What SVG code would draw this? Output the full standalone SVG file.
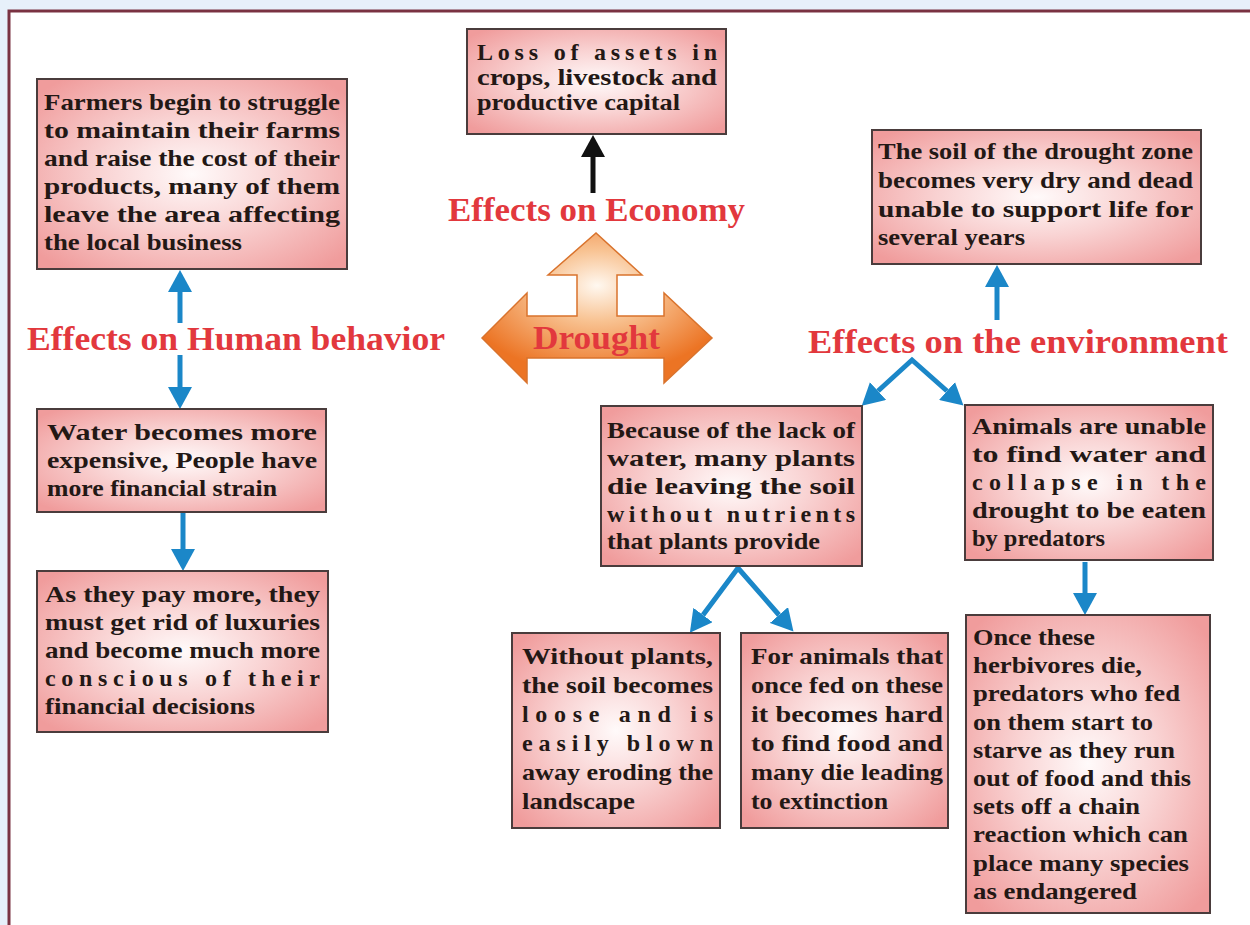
<svg xmlns="http://www.w3.org/2000/svg" width="1250" height="925" viewBox="0 0 1250 925">
  <defs>
    <radialGradient id="boxFill" cx="50%" cy="50%" r="65%">
      <stop offset="0" stop-color="#fffafa"/>
      <stop offset="0.45" stop-color="#f9d3d3"/>
      <stop offset="1" stop-color="#f09c9c"/>
    </radialGradient>
    <radialGradient id="droughtFill" cx="50%" cy="35%" r="60%">
      <stop offset="0" stop-color="#fff8f0"/>
      <stop offset="0.4" stop-color="#f8c291"/>
      <stop offset="1" stop-color="#ec7424"/>
    </radialGradient>
    <marker id="blueHead" viewBox="0 0 22 24" markerWidth="22" markerHeight="24" refX="0" refY="12" orient="auto-start-reverse" markerUnits="userSpaceOnUse">
      <path d="M0,0 L22,12 L0,24 Z" fill="#1b87c8"/>
    </marker>
    <marker id="blackHead" viewBox="0 0 22 24" markerWidth="22" markerHeight="24" refX="0" refY="12" orient="auto" markerUnits="userSpaceOnUse">
      <path d="M0,0 L22,12 L0,24 Z" fill="#111111"/>
    </marker>
  </defs>
  <style>
    .box { fill: url(#boxFill); stroke: #4a3c3c; stroke-width: 2; }
    .t { font-family: "Liberation Serif", "Times New Roman", serif; font-weight: bold; font-size: 24px; fill: #231815; }
    .lbl { font-family: "Liberation Serif", "Times New Roman", serif; font-weight: bold; font-size: 33px; fill: #e2383d; }
    .blue { stroke: #1b87c8; stroke-width: 5; fill: none; stroke-linejoin: miter; }
    .black { stroke: #111111; stroke-width: 5; fill: none; }
  </style>

  <!-- page background and frame -->
  <rect x="0" y="0" width="1250" height="925" fill="#e7f0fa"/>
  <rect x="9" y="11" width="1260" height="930" fill="#ffffff" stroke="#7a3242" stroke-width="3"/>

  <!-- connectors -->
  <g id="connectors">
    <line class="blue" x1="180" y1="323" x2="180" y2="292" marker-end="url(#blueHead)"/>
    <line class="blue" x1="180" y1="355" x2="180" y2="387" marker-end="url(#blueHead)"/>
    <line class="blue" x1="183" y1="513" x2="183" y2="549" marker-end="url(#blueHead)"/>
    <line class="black" x1="593" y1="193" x2="593" y2="157" marker-end="url(#blackHead)"/>
    <line class="blue" x1="997" y1="320" x2="997" y2="287" marker-end="url(#blueHead)"/>
    <path class="blue" d="M878,391 L912,360 L947,391" marker-start="url(#blueHead)" marker-end="url(#blueHead)"/>
    <path class="blue" d="M703,615 L738,568 L779,615" marker-start="url(#blueHead)" marker-end="url(#blueHead)"/>
    <line class="blue" x1="1085" y1="562" x2="1085" y2="593" marker-end="url(#blueHead)"/>
  </g>

  <!-- central drought arrow -->
  <g id="drought">
    <path d="M482,338 L527,293 L527,316 L577,316 L577,275 L548,275 L596,233 L642,275 L617,275 L617,316 L664,316 L664,293 L712,338 L664,383 L664,358 L527,358 L527,383 Z" fill="url(#droughtFill)" stroke="#d9732d" stroke-width="1.5"/>
    <text class="lbl" x="533" y="349" textLength="127" lengthAdjust="spacingAndGlyphs">Drought</text>
  </g>

  <!-- category labels -->
  <g id="label-human"><text class="lbl" x="27" y="350" textLength="418" lengthAdjust="spacingAndGlyphs">Effects on Human behavior</text></g>
  <g id="label-economy"><text class="lbl" x="448" y="221" textLength="297" lengthAdjust="spacingAndGlyphs">Effects on Economy</text></g>
  <g id="label-environment"><text class="lbl" x="808" y="353" textLength="420" lengthAdjust="spacingAndGlyphs">Effects on the environment</text></g>

  <!-- boxes -->
  <g id="farmers">
    <rect class="box" x="37" y="79" width="310" height="190"/>
    <text class="t" x="44" y="110" textLength="296" lengthAdjust="spacingAndGlyphs">Farmers begin to struggle</text>
    <text class="t" x="44" y="138" textLength="296" lengthAdjust="spacingAndGlyphs">to maintain their farms</text>
    <text class="t" x="44" y="166" textLength="296" lengthAdjust="spacingAndGlyphs">and raise the cost of their</text>
    <text class="t" x="44" y="194" textLength="296" lengthAdjust="spacingAndGlyphs">products, many of them</text>
    <text class="t" x="44" y="222" textLength="296" lengthAdjust="spacingAndGlyphs">leave the area affecting</text>
    <text class="t" x="44" y="250" textLength="198" lengthAdjust="spacingAndGlyphs">the local business</text>
  </g>

  <g id="loss">
    <rect class="box" x="467" y="29" width="259" height="105"/>
    <text class="t" x="477" y="60" textLength="240">Loss of assets in</text>
    <text class="t" x="477" y="85" textLength="240" lengthAdjust="spacingAndGlyphs">crops, livestock and</text>
    <text class="t" x="477" y="110" textLength="203" lengthAdjust="spacingAndGlyphs">productive capital</text>
  </g>

  <g id="soil">
    <rect class="box" x="872" y="130" width="329" height="134"/>
    <text class="t" x="878" y="159" textLength="315" lengthAdjust="spacingAndGlyphs">The soil of the drought zone</text>
    <text class="t" x="878" y="188" textLength="315" lengthAdjust="spacingAndGlyphs">becomes very dry and dead</text>
    <text class="t" x="878" y="217" textLength="315" lengthAdjust="spacingAndGlyphs">unable to support life for</text>
    <text class="t" x="878" y="245" textLength="147" lengthAdjust="spacingAndGlyphs">several years</text>
  </g>

  <g id="water">
    <rect class="box" x="37" y="409" width="289" height="103"/>
    <text class="t" x="47" y="440" textLength="270" lengthAdjust="spacingAndGlyphs">Water becomes more</text>
    <text class="t" x="47" y="468" textLength="270" lengthAdjust="spacingAndGlyphs">expensive, People have</text>
    <text class="t" x="47" y="496" textLength="230" lengthAdjust="spacingAndGlyphs">more financial strain</text>
  </g>

  <g id="pay">
    <rect class="box" x="37" y="571" width="291" height="161"/>
    <text class="t" x="45" y="602" textLength="275" lengthAdjust="spacingAndGlyphs">As they pay more, they</text>
    <text class="t" x="45" y="630" textLength="275" lengthAdjust="spacingAndGlyphs">must get rid of luxuries</text>
    <text class="t" x="45" y="658" textLength="275" lengthAdjust="spacingAndGlyphs">and become much more</text>
    <text class="t" x="45" y="686" textLength="275">conscious of their</text>
    <text class="t" x="45" y="714" textLength="210" lengthAdjust="spacingAndGlyphs">financial decisions</text>
  </g>

  <g id="plants">
    <rect class="box" x="601" y="406" width="261" height="160"/>
    <text class="t" x="607" y="438" textLength="248" lengthAdjust="spacingAndGlyphs">Because of the lack of</text>
    <text class="t" x="607" y="466" textLength="248" lengthAdjust="spacingAndGlyphs">water, many plants</text>
    <text class="t" x="607" y="494" textLength="248" lengthAdjust="spacingAndGlyphs">die leaving the soil</text>
    <text class="t" x="607" y="522" textLength="248">without nutrients</text>
    <text class="t" x="607" y="549" textLength="213" lengthAdjust="spacingAndGlyphs">that plants provide</text>
  </g>

  <g id="animals">
    <rect class="box" x="965" y="405" width="248" height="155"/>
    <text class="t" x="972" y="434" textLength="234" lengthAdjust="spacingAndGlyphs">Animals are unable</text>
    <text class="t" x="972" y="462" textLength="234" lengthAdjust="spacingAndGlyphs">to find water and</text>
    <text class="t" x="972" y="490" textLength="234">collapse in the</text>
    <text class="t" x="972" y="518" textLength="234" lengthAdjust="spacingAndGlyphs">drought to be eaten</text>
    <text class="t" x="972" y="546" textLength="133" lengthAdjust="spacingAndGlyphs">by predators</text>
  </g>

  <g id="without">
    <rect class="box" x="512" y="633" width="208" height="195"/>
    <text class="t" x="522" y="664" textLength="191" lengthAdjust="spacingAndGlyphs">Without plants,</text>
    <text class="t" x="522" y="693" textLength="191" lengthAdjust="spacingAndGlyphs">the soil becomes</text>
    <text class="t" x="522" y="722" textLength="191">loose and is</text>
    <text class="t" x="522" y="751" textLength="191">easily blown</text>
    <text class="t" x="522" y="780" textLength="191" lengthAdjust="spacingAndGlyphs">away eroding the</text>
    <text class="t" x="522" y="809" textLength="113" lengthAdjust="spacingAndGlyphs">landscape</text>
  </g>

  <g id="fedon">
    <rect class="box" x="741" y="633" width="207" height="195"/>
    <text class="t" x="751" y="664" textLength="192" lengthAdjust="spacingAndGlyphs">For animals that</text>
    <text class="t" x="751" y="693" textLength="192" lengthAdjust="spacingAndGlyphs">once fed on these</text>
    <text class="t" x="751" y="722" textLength="192" lengthAdjust="spacingAndGlyphs">it becomes hard</text>
    <text class="t" x="751" y="751" textLength="192" lengthAdjust="spacingAndGlyphs">to find food and</text>
    <text class="t" x="751" y="780" textLength="192" lengthAdjust="spacingAndGlyphs">many die leading</text>
    <text class="t" x="751" y="809" textLength="137" lengthAdjust="spacingAndGlyphs">to extinction</text>
  </g>

  <g id="chain">
    <rect class="box" x="966" y="615" width="244" height="298"/>
    <text class="t" x="973" y="645" textLength="122" lengthAdjust="spacingAndGlyphs">Once these</text>
    <text class="t" x="973" y="673" textLength="169" lengthAdjust="spacingAndGlyphs">herbivores die,</text>
    <text class="t" x="973" y="701" textLength="207" lengthAdjust="spacingAndGlyphs">predators who fed</text>
    <text class="t" x="973" y="730" textLength="180" lengthAdjust="spacingAndGlyphs">on them start to</text>
    <text class="t" x="973" y="758" textLength="202" lengthAdjust="spacingAndGlyphs">starve as they run</text>
    <text class="t" x="973" y="786" textLength="218" lengthAdjust="spacingAndGlyphs">out of food and this</text>
    <text class="t" x="973" y="814" textLength="167" lengthAdjust="spacingAndGlyphs">sets off a chain</text>
    <text class="t" x="973" y="842" textLength="215" lengthAdjust="spacingAndGlyphs">reaction which can</text>
    <text class="t" x="973" y="871" textLength="216" lengthAdjust="spacingAndGlyphs">place many species</text>
    <text class="t" x="973" y="899" textLength="164" lengthAdjust="spacingAndGlyphs">as endangered</text>
  </g>
</svg>
